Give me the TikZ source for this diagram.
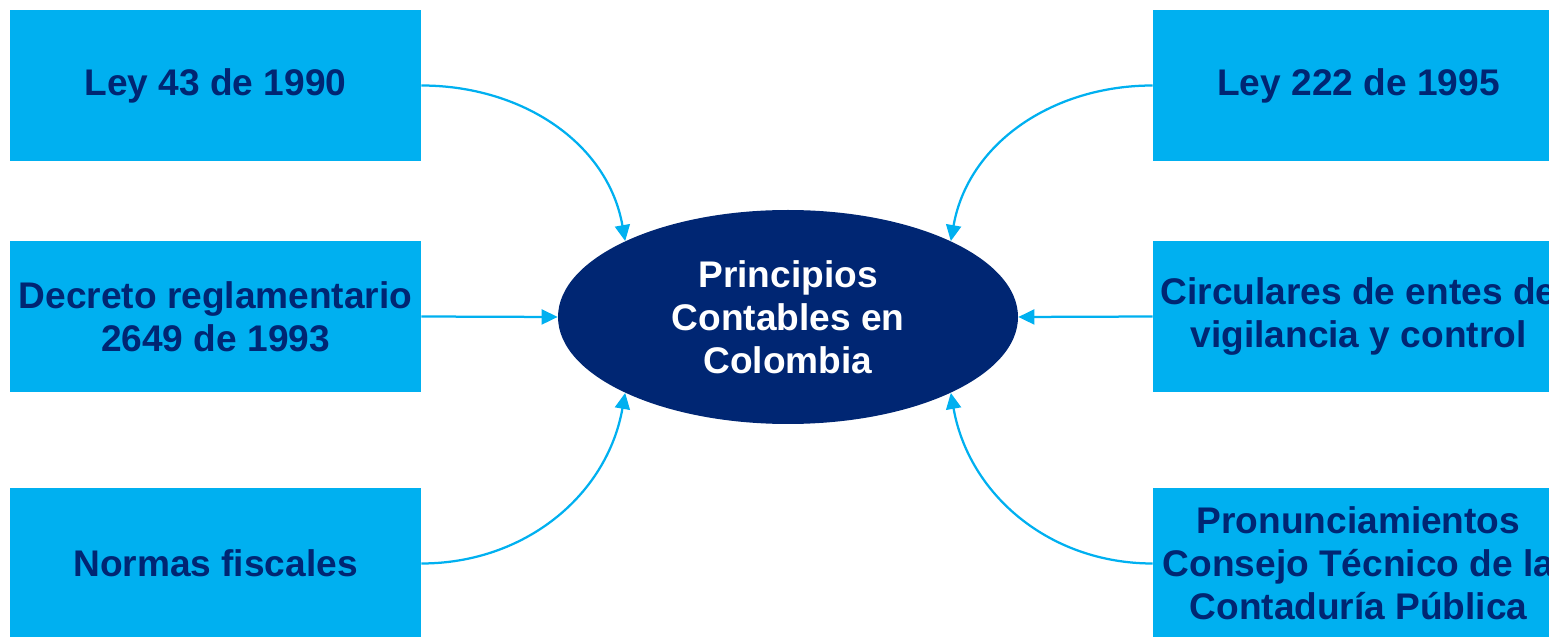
\documentclass[tikz,border=0pt]{standalone}
\usepackage{fontspec}
\setmainfont{Liberation Sans}
\usetikzlibrary{arrows.meta,shapes.geometric}
\definecolor{cajaazul}{HTML}{00B0F0}
\definecolor{textoazul}{HTML}{002673}
\definecolor{elipseazul}{HTML}{002673}
\tikzset{
	caja/.style={fill=cajaazul, minimum width=8.22cm, minimum height=3.02cm, inner sep=0pt, align=center, text=textoazul, font=\bfseries\fontsize{21.1}{24.5}\selectfont},
	elipse/.style={ellipse, fill=elipseazul, minimum width=9.2cm, minimum height=4.28cm, inner sep=0pt, align=center, text=white, font=\bfseries\fontsize{21.1}{24.5}\selectfont},
	flecha/.style={draw=cajaazul, line width=0.45mm, -{Triangle[length=3.2mm,width=3mm]}}
}

\begin{document}
\begin{tikzpicture}
			%%%%% START %%%%%
			
			\clip (0, 0) rectangle (30.98, -12.74);
			\useasboundingbox (0, 0) rectangle (30.98, -12.74);
			
			\node[elipse] (pc) at (15.76, -6.34) {Principios\\Contables en\\Colombia};
			
			\node[caja] (ley43) at (4.31, -1.71) {Ley 43 de 1990};
			\node[caja] (decreto) at (4.31, -6.33) {Decreto reglamentario\\2649 de 1993};
			\node[caja] (normas) at (4.31, -11.27) {Normas fiscales};
			
			\node[caja] (ley222) at (27.17, -1.71) {Ley 222 de 1995};
			\node[caja] (circulares) at (27.17, -6.33) {Circulares de entes de\\vigilancia y control};
			\node[caja] (pronun) at (27.17, -11.27) {Pronunciamientos\\Consejo T\'ecnico de la\\Contadur\'ia P\'ublica};
			
			\draw[flecha] (ley43.east) to[out=0, in=100] (pc.155);
			\draw[flecha] (decreto.east) -- (pc.west);
			\draw[flecha] (normas.east) to[out=0, in=-100] (pc.205);
			
			\draw[flecha] (ley222.west) to[out=180, in=80] (pc.25);
			\draw[flecha] (circulares.west) -- (pc.east);
			\draw[flecha] (pronun.west) to[out=180, in=-80] (pc.335);
			
			%%%%% END %%%%%
		\end{tikzpicture}
\end{document}
